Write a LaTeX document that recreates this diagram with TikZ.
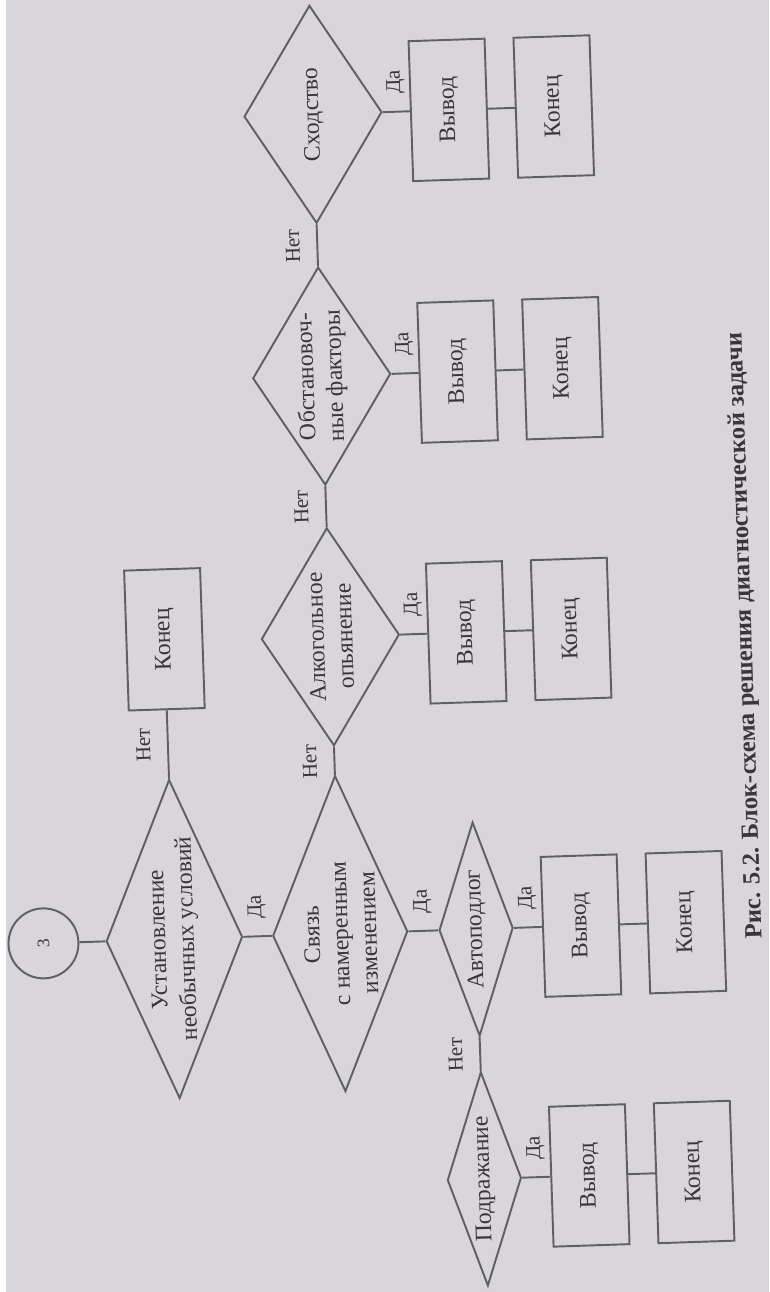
\documentclass[tikz,border=0pt]{standalone}
\usepackage{fontspec}
\setmainfont{Liberation Serif}
\usetikzlibrary{shapes.geometric}
\usetikzlibrary{positioning}
\definecolor{paper}{RGB}{217,214,219}
\definecolor{ink}{RGB}{96,95,100}
\definecolor{print}{RGB}{56,54,59}
\tikzset{node distance=2.1cm, % Distance between the centres of a Вывод box and its Конец box
every node/.style={ % Text of all nodes
text=print,
font=\fontsize{13.5}{16.2}\selectfont},
block/.style={ % Вывод and Конец boxes
draw=ink, line width=1.1pt,
minimum width=2.8cm, minimum height=1.52cm},
bigdia/.style={diamond, draw=ink, line width=1.1pt, inner sep=0pt, align=center,
shape aspect=2.34, minimum width=6.32cm, minimum height=2.7cm},
middia/.style={diamond, draw=ink, line width=1.1pt, inner sep=0pt, align=center,
shape aspect=1.58, minimum width=4.36cm, minimum height=2.76cm},
smalldia/.style={diamond, draw=ink, line width=1.1pt, inner sep=0pt, align=center,
shape aspect=2.89, minimum width=4.28cm, minimum height=1.48cm},
connector/.style={circle, draw=ink, line width=1.1pt, minimum size=1.4cm,
font=\fontsize{10}{12}\selectfont},
lbl/.style={font=\fontsize{12}{14}\selectfont, inner sep=9.5pt}, % Да / Нет
every edge/.style={ % Sets the properties for each line
draw=ink,
line width=1.1pt}}

\begin{document}
\begin{tikzpicture}[x=0.02cm, y=0.02cm]
	\fill[paper] (0,0) rectangle (769,1292);
	\fill[white] (0,0) rectangle (6,1292);
	\useasboundingbox (0,0) rectangle (769,1292);
	\begin{scope}[rotate=91.9, transform shape] % the page is printed sideways
		\node[connector] (c3) at (347,-55) {3};
		\node[bigdia, below of=c3, node distance=2.62cm] (ust) {Установление\\необычных условий};
		\node[block, right of=ust, node distance=6cm] (k0) {Конец};
		\node[bigdia, below of=ust, node distance=3.32cm] (svz) {Связь\\с намеренным\\изменением};
		\node[middia, right of=svz, node distance=5.94cm] (alk) {Алкогольное\\опьянение};
		\node[middia, right of=alk, node distance=5.22cm] (obs) {Обстановоч-\\ные факторы};
		\node[middia, right of=obs, node distance=5.24cm] (shd) {Сходство};
		\node[smalldia, below of=svz, node distance=2.72cm] (avt) {Автоподлог};
		\node[smalldia, left of=avt, node distance=5cm] (pdr) {Подражание};

		\node[block, below of=alk, node distance=2.72cm] (vAlk) {Вывод};
		\node[block, below of=vAlk] (kAlk) {Конец};
		\node[block, below of=obs, node distance=2.72cm] (vObs) {Вывод};
		\node[block, below of=vObs] (kObs) {Конец};
		\node[block, below of=shd, node distance=2.72cm] (vShd) {Вывод};
		\node[block, below of=vShd] (kShd) {Конец};
		\node[block, below of=avt] (vAvt) {Вывод};
		\node[block, below of=vAvt] (kAvt) {Конец};
		\node[block, below of=pdr] (vPdr) {Вывод};
		\node[block, below of=vPdr] (kPdr) {Конец};

		\node[font=\bfseries\fontsize{14}{16}\selectfont] (cap) at (631,-767) {Рис. 5.2. Блок-схема решения диагностической задачи};

		\draw (c3) edge (ust);
		\draw (ust) edge node[lbl, above] {Нет} (k0);
		\draw (ust) edge node[lbl, right] {Да} (svz);

		\draw (svz) edge node[lbl, above] {Нет} (alk);
		\draw (alk) edge node[lbl, above] {Нет} (obs);
		\draw (obs) edge node[lbl, above] {Нет} (shd);
		\draw (svz) edge node[lbl, right] {Да} (avt);
		\draw (avt) edge node[lbl, above] {Нет} (pdr);

		\draw (alk) edge node[lbl, right] {Да} (vAlk);
		\draw (vAlk) edge (kAlk);
		\draw (obs) edge node[lbl, right] {Да} (vObs);
		\draw (vObs) edge (kObs);
		\draw (shd) edge node[lbl, right] {Да} (vShd);
		\draw (vShd) edge (kShd);
		\draw (avt) edge node[lbl, right] {Да} (vAvt);
		\draw (vAvt) edge (kAvt);
		\draw (pdr) edge node[lbl, right] {Да} (vPdr);
		\draw (vPdr) edge (kPdr);
	\end{scope}
\end{tikzpicture}
\end{document}
